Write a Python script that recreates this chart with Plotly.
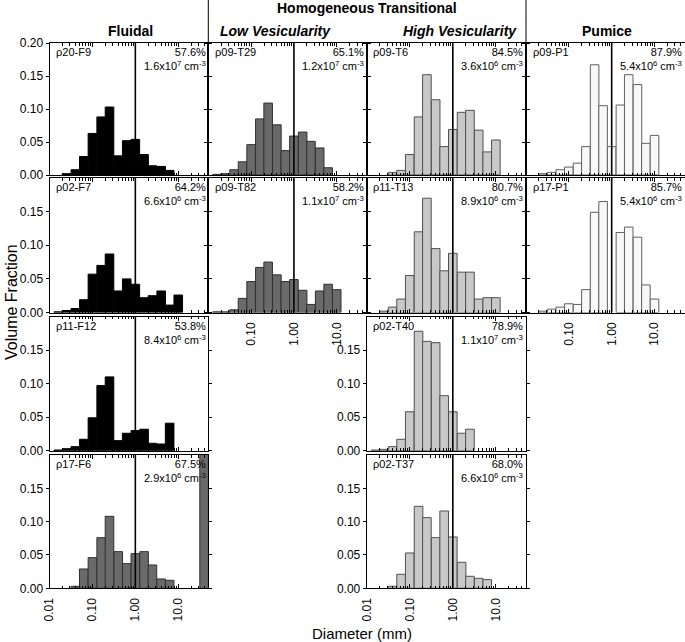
import numpy as np
import plotly.graph_objects as go

# --- Data: volume fraction per size bin (bin centres in mm, 5 bins per decade) ---
BIN_MM = [0.016, 0.025, 0.040, 0.063, 0.10, 0.16, 0.25, 0.40, 0.63,
          1.0, 1.6, 2.5, 4.0, 6.3, 10.0, 16.0, 25.0, 40.0]

F9 = [None, 0.002, 0.008, 0.028, 0.063, 0.088, 0.103, 0.029, 0.052,
      0.054, 0.031, 0.014, 0.013, 0.007, None, None, None, None]
T29 = [0.001, 0.002, 0.008, 0.020, 0.046, 0.085, 0.109, 0.076, 0.037,
       0.059, 0.065, 0.051, 0.041, 0.011, None, None, None, None]
T6 = [None, None, 0.004, 0.007, 0.031, 0.088, 0.152, 0.114, 0.043,
      0.069, 0.095, 0.098, 0.068, 0.035, 0.053, None, None, None]
P1_09 = [None, 0.002, 0.004, 0.008, 0.012, 0.018, 0.043, 0.167, 0.105,
         0.043, 0.106, 0.152, 0.137, 0.048, 0.060, None, None, None]
F7 = [0.001, 0.003, 0.006, 0.019, 0.057, 0.070, 0.087, 0.032, 0.050,
      0.042, 0.022, 0.025, 0.032, 0.011, 0.026, None, None, None]
T82 = [0.001, 0.001, 0.004, 0.021, 0.046, 0.067, 0.075, 0.056, 0.046,
       0.049, 0.033, 0.012, 0.032, 0.042, 0.034, None, None, None]
T13 = [None, 0.002, 0.008, 0.020, 0.055, 0.120, 0.170, 0.095, 0.062,
       0.088, 0.060, 0.060, 0.020, 0.022, 0.022, None, None, None]
P1_17 = [None, 0.002, 0.005, 0.008, 0.013, 0.012, 0.034, 0.149, 0.165,
         None, 0.119, 0.127, 0.112, 0.041, 0.020, None, None, None]
F12 = [0.001, 0.003, 0.006, 0.017, 0.049, 0.097, 0.110, 0.015, 0.026,
       0.030, 0.032, 0.011, 0.010, 0.041, None, None, None, None]
T40 = [0.001, 0.002, 0.006, 0.017, 0.058, 0.178, 0.163, 0.161, 0.082,
       0.058, 0.026, 0.032, None, None, None, None, None, None]
F6 = [None, None, 0.003, 0.029, 0.046, 0.076, 0.108, 0.055, 0.037,
      0.052, 0.055, 0.035, 0.014, 0.012, None, None, None, 0.25]
T37 = [None, None, 0.003, 0.021, 0.053, 0.123, 0.106, 0.076, 0.116,
       0.077, 0.039, 0.018, 0.015, 0.013, None, None, None, None]

# (row, col, sample, vesicularity, density mantissa, exponent, values)
PANELS = [
    (0, 0, "ρ20-F9", "57.6%", "1.6", "7", F9),
    (0, 1, "ρ09-T29", "65.1%", "1.2", "7", T29),
    (0, 2, "ρ09-T6", "84.5%", "3.6", "6", T6),
    (0, 3, "ρ09-P1", "87.9%", "5.4", "6", P1_09),
    (1, 0, "ρ02-F7", "64.2%", "6.6", "6", F7),
    (1, 1, "ρ09-T82", "58.2%", "1.1", "7", T82),
    (1, 2, "ρ11-T13", "80.7%", "8.9", "6", T13),
    (1, 3, "ρ17-P1", "85.7%", "5.4", "6", P1_17),
    (2, 0, "ρ11-F12", "53.8%", "8.4", "6", F12),
    (2, 2, "ρ02-T40", "78.9%", "1.1", "7", T40),
    (3, 0, "ρ17-F6", "67.5%", "2.9", "6", F6),
    (3, 2, "ρ02-T37", "68.0%", "6.6", "6", T37),
]

X_TICK_VALS = [0.01, 0.1, 1.0, 10.0]
X_TICK_TEXT = ["0.01", "0.10", "1.00", "10.0"]
Y_TICKS = [0.0, 0.05, 0.10, 0.15, 0.20]

# --- Layout geometry (pixels) ---
W, H = 685, 642
COLS = [(49.5, 208.3), (208.3, 366.7), (366.7, 526.0), (526.0, 684.5)]
ROWS = [(43.0, 175.0), (178.0, 312.5), (316.5, 450.7), (455.0, 588.3)]
FONT = "Arial, Liberation Sans, Helvetica, sans-serif"

FILLS = {0: ("black", "black"), 1: ("#6a6a6a", "#303030"),
         2: ("#c8c8c8", "#505050"), 3: ("#f8f8f8", "#606060")}

log_bins = np.log10(BIN_MM)
minor_vals = [np.log10(k * 10.0 ** d) for d in range(-2, 2) for k in range(2, 10)
              if np.log10(k * 10.0 ** d) < 1.7]

fig = go.Figure()
shapes, annotations = [], []

for n, (r, c, name, pct, mant, expo, vals) in enumerate(PANELS, start=1):
    sfx = "" if n == 1 else str(n)
    fill, edge = FILLS[c]
    if (r, c) == (3, 0):
        fill, edge = "#6a6a6a", "#303030"

    fig.add_trace(go.Bar(
        x=log_bins, y=vals, width=0.2, xaxis="x" + sfx, yaxis="y" + sfx,
        marker=dict(color=fill, line=dict(color=edge, width=1)),
        showlegend=False, hoverinfo="skip"
    ))

    x0, x1 = COLS[c]
    y0, y1 = ROWS[r]
    show_x = (r == 3) or (r == 1 and c in (1, 3))
    show_y = (c == 0) or (c == 2 and r >= 2)
    xt = list(zip(X_TICK_VALS, X_TICK_TEXT))
    if r == 1:
        xt = xt[1:]
    yt = Y_TICKS if r == 0 else Y_TICKS[:-1]

    fig.layout["xaxis" + sfx] = dict(
        domain=[x0 / W, x1 / W], anchor="y" + sfx, range=[-2, 1.7],
        tickmode="array", tickvals=[np.log10(v) for v, _ in xt],
        ticktext=[t for _, t in xt], showticklabels=show_x, tickangle=-90,
        ticks="inside", ticklen=4, tickcolor="black", ticklabelstandoff=4,
        minor=dict(tickvals=minor_vals, ticks="inside", ticklen=2.5, tickcolor="black"),
        showline=True, linecolor="black", linewidth=1, mirror="ticks",
        showgrid=False, zeroline=False, automargin=False,
        tickfont=dict(family=FONT, size=12, color="black"),
    )
    fig.layout["yaxis" + sfx] = dict(
        domain=[1 - y1 / H, 1 - y0 / H], anchor="x" + sfx, range=[0, 0.2],
        tickmode="array", tickvals=yt, ticktext=[f"{v:.2f}" for v in yt],
        showticklabels=show_y, ticks="outside", ticklen=3, tickcolor="black",
        showline=True, linecolor="black", linewidth=1, mirror="ticks",
        showgrid=False, zeroline=False, automargin=False,
        tickfont=dict(family=FONT, size=12, color="black"),
    )

    # 1 mm reference line
    shapes.append(dict(type="line", xref="x" + sfx, yref="y" + sfx + " domain",
                       x0=0, x1=0, y0=0, y1=1, line=dict(color="black", width=1.6)))

    annotations.append(dict(
        xref="x" + sfx + " domain", yref="y" + sfx + " domain", x=0.03, y=0.99,
        xanchor="left", yanchor="top", text=name, showarrow=False,
        font=dict(family=FONT, size=11, color="black")))
    annotations.append(dict(
        xref="x" + sfx + " domain", yref="y" + sfx + " domain", x=0.995, y=0.99,
        xanchor="right", yanchor="top", align="right", showarrow=False,
        text=f"{pct}<br>{mant}x10<sup>{expo}</sup> cm<sup>-3</sup>",
        font=dict(family=FONT, size=11, color="black")))

# Column group separators above the first row
for xp in (208.3, 526.0):
    shapes.append(dict(type="line", xref="paper", yref="paper",
                       x0=xp / W, x1=xp / W, y0=1, y1=1 - 43 / H,
                       line=dict(color="black", width=1)))

headers = [
    ("<b>Homogeneous Transitional</b>", 367.5, 8, "center"),
    ("<b>Fluidal</b>", 130, 31, "center"),
    ("<b><i>Low Vesicularity</i></b>", 275, 31, "center"),
    ("<b><i>High Vesicularity</i></b>", 460, 31, "center"),
    ("<b>Pumice</b>", 607, 31, "center"),
]
for txt, xp, yp, anc in headers:
    annotations.append(dict(xref="paper", yref="paper", x=xp / W, y=1 - yp / H,
                            xanchor=anc, yanchor="middle", text=txt, showarrow=False,
                            font=dict(family=FONT, size=14, color="black")))

annotations.append(dict(xref="paper", yref="paper", x=12 / W, y=1 - 302 / H,
                        xanchor="center", yanchor="middle", text="Volume Fraction",
                        textangle=-90, showarrow=False,
                        font=dict(family=FONT, size=16, color="black")))
annotations.append(dict(xref="paper", yref="paper", x=362 / W, y=1 - 633 / H,
                        xanchor="center", yanchor="middle", text="Diameter (mm)",
                        showarrow=False, font=dict(family=FONT, size=15, color="black")))

fig.update_layout(
    template="none",
    width=W, height=H, margin=dict(l=0, r=0, t=0, b=0, autoexpand=False),
    paper_bgcolor="white", plot_bgcolor="white",
    shapes=shapes, annotations=annotations, barmode="overlay",
)
# page body has a default 8px margin; drop it so the figure fills the window
fig.write_html("out.html", config={"displayModeBar": False},
               post_script="document.body.style.margin='0px';")
